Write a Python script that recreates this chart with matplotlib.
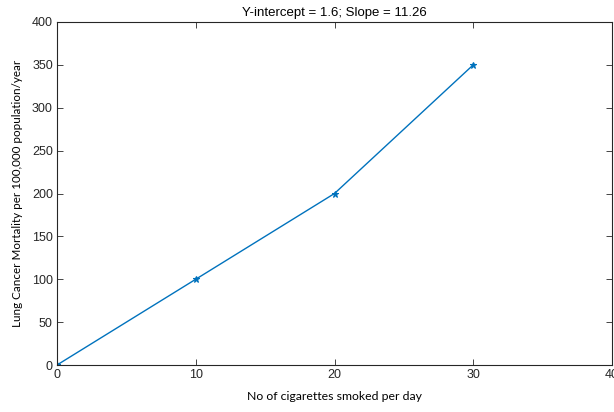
import matplotlib
matplotlib.use('Agg')
import matplotlib.pyplot as plt

cigarettes = [0, 10, 20, 30]
mortality = [0, 100, 200, 350]
x_ticks = [0, 10, 20, 30, 40]
y_ticks = [0, 50, 100, 150, 200, 250, 300, 350, 400]

plt.rcParams['font.family'] = ['Liberation Sans', 'DejaVu Sans']

fig = plt.figure(figsize=(6.14, 4.12), dpi=100)
ax = fig.add_axes([57 / 614, 47 / 412, 555 / 614, 343 / 412])

ax.plot(cigarettes, mortality, color='#0072BD', lw=1.0, marker='*',
        markersize=5, markeredgewidth=0.8)

ax.set_xlim(0, 40)
ax.set_ylim(0, 400)
ax.set_xticks(x_ticks)
ax.set_yticks(y_ticks)
ax.tick_params(direction='in', top=True, right=True, length=4, width=0.6,
               colors='#262626', labelsize=9, pad=3)
for s in ax.spines.values():
    s.set_color('#262626')
    s.set_linewidth(0.8)

ax.set_title('Y-intercept = 1.6; Slope = 11.26', fontsize=9.5, pad=4, color='#000000')
ax.set_xlabel('No of cigarettes smoked per day', fontsize=8.8,
              family=['Lato', 'DejaVu Sans'], labelpad=7)
ax.set_ylabel('Lung Cancer Mortality per 100,000 population/year', fontsize=8.4,
              family=['Lato', 'DejaVu Sans'], labelpad=6)

fig.savefig('out.png', dpi=100)
